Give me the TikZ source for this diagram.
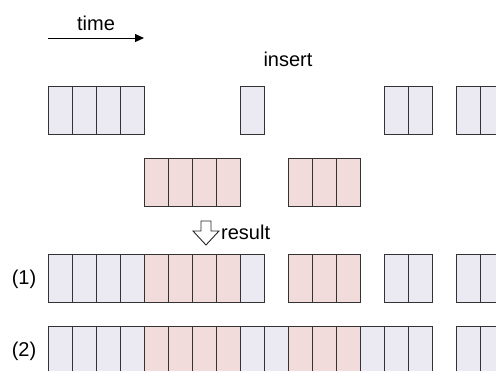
\documentclass[tikz,border=0pt]{standalone}
\usepackage{fontspec}
\setmainfont{Liberation Sans}
\usetikzlibrary{arrows.meta}
\definecolor{cellgray}{HTML}{EBE9F1}
\definecolor{cellpink}{HTML}{F2DCDB}
\begin{document}
\begin{tikzpicture}[x=1pt,y=-1pt,
  cell/.style={draw=black!80, line width=1pt, minimum width=24pt, minimum height=48pt, inner sep=0pt, outer sep=0pt, anchor=north west},
  gcell/.style={cell, fill=cellgray},
  pcell/.style={cell, fill=cellpink},
  lbl/.style={font=\fontsize{20}{24}\selectfont, inner sep=0pt},
  bigarrow/.style={draw=black!85, line width=0.9pt, fill=white, line join=miter}]
\useasboundingbox (0,0) rectangle (496,370);
\clip (0,0) rectangle (496,370);
% time arrow
\node[lbl] (time) at (96,23) {time};
\coordinate (t0) at (48,38);
\coordinate (t1) at (144,38);
\draw[line width=1pt, -{Triangle[length=9pt,width=8pt]}] (t0) -- (t1);
\node[lbl] (insert) at (288,59) {insert};
% row a: original (gray)
\foreach \x [count=\i] in {48,72,96,120,240,384,408,456,480}
  \node[gcell] (a\i) at (\x,86) {};
% row b: inserted (pink)
\foreach \x [count=\i] in {144,168,192,216,288,312,336}
  \node[pcell] (b\i) at (\x,158) {};
% result arrow (outline block arrow pointing down)
\coordinate (arr) at (206,233);
\draw[bigarrow] (201,221) -- (211,221) -- (211,231) -- (219,231) -- (206,245)
  -- (193,231) -- (201,231) -- cycle;
\node[lbl, anchor=west] (result) at (221,232) {result};
% row (1)
\node[lbl] (l1) at (24,279) {(1)};
\foreach \x [count=\i] in {48,72,96,120,240,384,408,456,480}
  \node[gcell] (c\i) at (\x,254) {};
\foreach \x [count=\i] in {144,168,192,216,288,312,336}
  \node[pcell] (cp\i) at (\x,254) {};
% row (2)
\node[lbl] (l2) at (24,351) {(2)};
\foreach \x [count=\i] in {48,72,96,120,240,264,360,384,408,456,480}
  \node[gcell] (d\i) at (\x,326) {};
\foreach \x [count=\i] in {144,168,192,216,288,312,336}
  \node[pcell] (dp\i) at (\x,326) {};
\end{tikzpicture}
\end{document}
